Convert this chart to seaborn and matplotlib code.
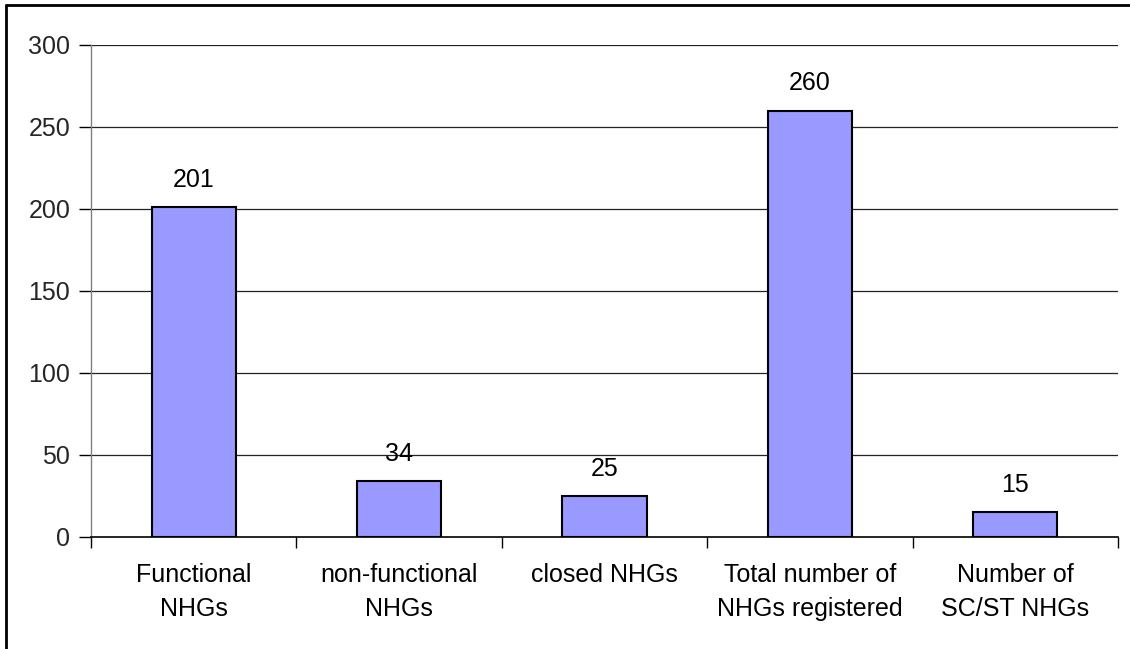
import matplotlib
matplotlib.use("Agg")
import matplotlib.pyplot as plt
from matplotlib.lines import Line2D
import seaborn as sns
import pandas as pd

categories = ["Functional\nNHGs", "non-functional\nNHGs", "closed NHGs",
              "Total number of\nNHGs registered", "Number of\nSC/ST NHGs"]
counts = [201, 34, 25, 260, 15]
y_ticks = [0, 50, 100, 150, 200, 250, 300]

sns.set_theme(style="white")
plt.rcParams["font.family"] = ["Liberation Sans", "DejaVu Sans"]

W, H = 1130, 649
fig = plt.figure(figsize=(W / 100, H / 100), dpi=100)
ax = fig.add_axes([91 / W, 1 - 537 / H, (1118 - 91) / W, (537 - 45) / H])

df = pd.DataFrame({"category": categories, "count": counts})
sns.barplot(data=df, x="category", y="count", ax=ax, color="#9999FF",
            saturation=1, width=0.41, edgecolor="black", linewidth=1.5,
            zorder=3)

ax.set_ylim(0, 300)
ax.set_xlim(-0.5, len(categories) - 0.5)
ax.set_yticks(y_ticks)
ax.set_xlabel("")
ax.set_ylabel("")

# horizontal gridlines at every y tick
for v in y_ticks[1:]:
    ax.axhline(v, color="#222222", linewidth=0.9, zorder=1)

for side in ["top", "right"]:
    ax.spines[side].set_visible(False)
ax.spines["left"].set_color("#808080")
ax.spines["left"].set_linewidth(1.0)
ax.spines["bottom"].set_color("black")
ax.spines["bottom"].set_linewidth(1.2)

# category labels centred on bars; tick marks on category boundaries
ax.set_xticks(range(len(categories)))
ax.set_xticklabels(categories, fontsize=18, linespacing=1.5)
ax.set_xticks([i - 0.5 for i in range(len(categories) + 1)], minor=True)
ax.tick_params(axis="x", which="major", length=0, pad=19, colors="black")
ax.tick_params(axis="x", which="minor", length=8, width=1, color="black",
               direction="out", bottom=True)
ax.tick_params(axis="y", which="major", length=9, width=1, color="black",
               direction="out", left=True, labelsize=18, pad=6)

for i, v in enumerate(counts):
    ax.annotate(f"{v}", xy=(i, v), xytext=(0, 11), textcoords="offset points",
                ha="center", va="bottom", fontsize=18, color="black")

# outer frame of the chart area
fig.add_artist(Line2D([5.5 / W, 5.5 / W], [0, 1 - 4.5 / H],
                      transform=fig.transFigure, color="black", linewidth=2))
fig.add_artist(Line2D([5.5 / W, 1], [1 - 4.5 / H, 1 - 4.5 / H],
                      transform=fig.transFigure, color="black", linewidth=2))

fig.savefig("out.png", dpi=100)
